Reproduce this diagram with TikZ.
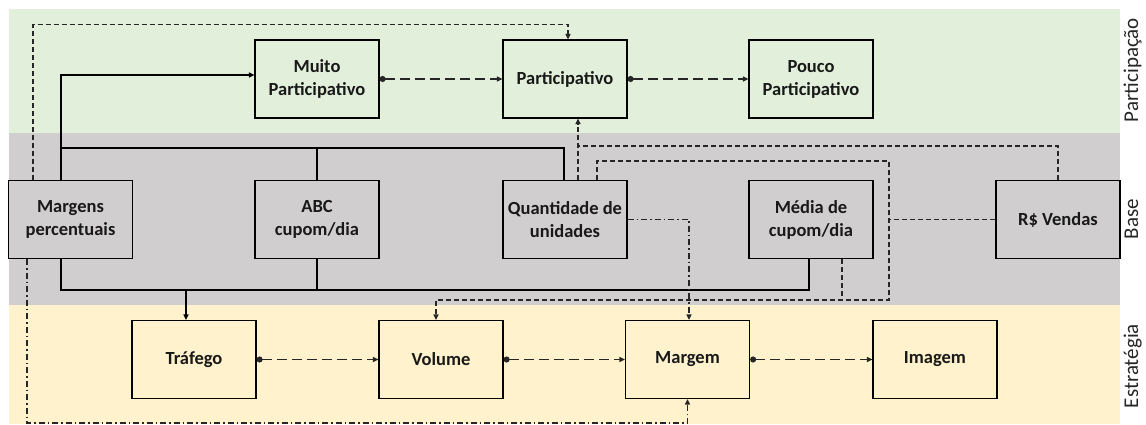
\documentclass[tikz,border=0pt]{standalone}
\usepackage{fontspec}
\setmainfont{Carlito}
\usetikzlibrary{arrows.meta,calc}
\definecolor{bgreen}{HTML}{E2EFDA}
\definecolor{bgray}{HTML}{D0CECE}
\definecolor{byellow}{HTML}{FFF2CC}
\begin{document}
\begin{tikzpicture}[x=1pt,y=1pt,
  box/.style={draw=black,line width=1.2pt,minimum width=124pt,minimum height=78pt,inner sep=2pt,
    align=center,font=\bfseries\fontsize{18.5}{23}\selectfont,text=black!90},
  side/.style={rotate=90,anchor=base,font=\fontsize{21}{24}\selectfont,text=black!85},
  solidline/.style={line width=2pt,black},
  tip/.style={-{Triangle[length=5.5pt,width=5pt]}},
  flow/.style={line width=1.5pt,black!85,dash pattern=on 10pt off 5pt,
    arrows={Circle[length=6pt]-Triangle[length=5.5pt,width=5pt]}},
  dsh/.style={line width=1.4pt,black!85,dash pattern=on 5pt off 3pt},
  dd/.style={line width=1.4pt,black!85,dash pattern=on 6pt off 3pt on 1.5pt off 3pt},
]
\useasboundingbox (0,0) rectangle (1146,-425);
% bands
\fill[bgreen] (9,-9) rectangle (1120,-133);
\fill[bgray] (9,-133) rectangle (1120,-305);
\fill[byellow] (9,-305) rectangle (1120,-424);
% side labels
\node[side] (lp) at (1138,-70) {Participação};
\node[side] (lb) at (1138,-219) {Base};
\node[side] (le) at (1138,-366) {Estratégia};
% boxes
\node[box] (mu) at (317,-79) {Muito\\Participativo};
\node[box] (pa) at (565,-79) {Participativo};
\node[box] (po) at (811,-79) {Pouco\\Participativo};
\node[box] (mp) at (70.5,-219.5) {Margens\\percentuais};
\node[box] (abc) at (317,-219.5) {ABC\\cupom/dia};
\node[box] (qu) at (565,-219.5) {Quantidade de\\unidades};
\node[box] (me) at (811,-219.5) {Média de\\cupom/dia};
\node[box] (rv) at (1058,-219.5) {R\$ Vendas};
\node[box] (tr) at (194,-359.5) {Tráfego};
\node[box] (vo) at (441,-359.5) {Volume};
\node[box] (ma) at (687.5,-359.5) {Margem};
\node[box] (im) at (935,-359.5) {Imagem};
% helper coordinates
\coordinate (mpT1) at ($(mp.north)+(-9.5,0)$);
\coordinate (mpT2) at ($(mp.north)+(-37.5,0)$);
\coordinate (mpB1) at ($(mp.south)+(-9.5,0)$);
\coordinate (mpB2) at ($(mp.south)+(-43.5,0)$);
\coordinate (meB1) at ($(me.south)+(-2,0)$);
\coordinate (meB2) at ($(me.south)+(31,0)$);
\coordinate (tb) at (0,-148);
\coordinate (bb) at (0,-290);
\coordinate (quT1) at ($(qu.north)+(-1,0)$);
\coordinate (quT2) at ($(qu.north)+(13,0)$);
\coordinate (quT3) at ($(qu.north)+(32,0)$);
\coordinate (j1) at ($(quT2)+(0,34)$);
\coordinate (c2) at ($(quT3)+(292,19)$);
\coordinate (c3) at ($(vo.north)+(448,20)$);
\coordinate (c4) at ($(vo.north)+(-5,20)$);
\coordinate (trT) at ($(tr.north)+(-8,0)$);
% solid connectors
\draw[solidline,tip] (mpT1) |- ([yshift=4pt]mu.west);
\draw[solidline] (mpT1 |- tb) -| (quT1);
\draw[solidline] (abc.north) -- (abc.north |- tb);
\draw[solidline] (mpB1) |- (meB1 |- bb) -- (meB1);
\draw[solidline] (abc.south) -- (abc.south |- bb);
\draw[solidline,tip] (trT |- bb) -- (trT);
% dashed connectors
\draw[dsh,tip] (mpT2) |- ($(pa.north)+(3,15)$) -- ($(pa.north)+(3,0)$);
\draw[dsh,tip] (quT2) -- (quT2 |- pa.south);
\draw[dsh] (rv.north) |- (j1);
\draw[dsh,tip] (quT3) |- (c2) -- (c3) -- (c4) -- ($(vo.north)+(-5,0)$);
\draw[dsh] (rv.west) -- (rv.west -| c2);
\draw[dsh] (meB2) -- (meB2 |- c3);
% dash-dot connectors
\draw[dd,tip] (qu.east) -| ($(ma.north)+(1.5,0)$);
\draw[dd,tip] (mpB2) |- ($(ma.south)+(0,-24)$) -- (ma.south);
% flows
\draw[flow] (mu.east) -- (pa.west);
\draw[flow] (pa.east) -- (po.west);
\draw[flow] (tr.east) -- (vo.west);
\draw[flow] (vo.east) -- (ma.west);
\draw[flow] (ma.east) -- (im.west);
\end{tikzpicture}
\end{document}
